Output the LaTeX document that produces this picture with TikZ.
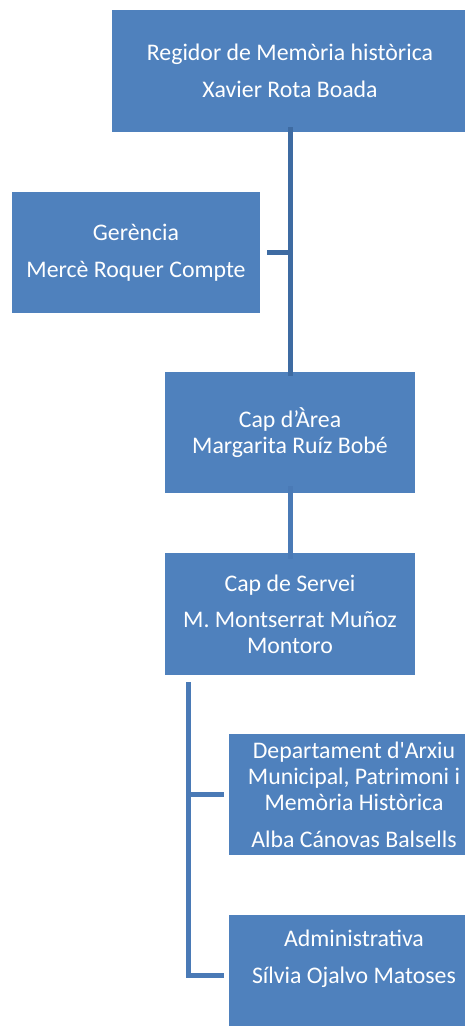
\documentclass[tikz,border=0pt]{standalone}
\usepackage{fontspec}
\setmainfont{Carlito}
\definecolor{boxblue}{HTML}{4F81BD}
\definecolor{linedark}{HTML}{3E6BA2}
\definecolor{linelight}{HTML}{4A7AB6}
\begin{document}
\begin{tikzpicture}[x=1pt,y=-1pt,
  orgbox/.style={fill=boxblue,draw=none,inner sep=0pt,text=white,align=center,
    font=\fontsize{23.8}{26}\selectfont},
  linktop/.style={draw=linedark,line width=5pt},
  linkbot/.style={draw=linelight,line width=5pt}]
\useasboundingbox (0,0) rectangle (465,1026);
\clip (0,0) rectangle (465,1026);
% boxes
\node[orgbox,minimum width=356pt,minimum height=122pt] (reg) at (290,71)
  {Regidor de Memòria històrica\\[11pt]Xavier Rota Boada};
\node[orgbox,minimum width=248pt,minimum height=121pt] (ger) at (136,252.5)
  {Gerència\\[11pt]Mercè Roquer Compte};
\node[orgbox,minimum width=250pt,minimum height=121pt] (area) at (290,432.5)
  {Cap d’Àrea\\Margarita Ruíz Bobé};
\node[orgbox,minimum width=250pt,minimum height=122pt] (serv) at (290,614)
  {Cap de Servei\\[10pt]M. Montserrat Muñoz\\Montoro};
\node[orgbox,minimum width=250pt,minimum height=121pt] (dept) at (354,794.5)
  {Departament d\textquotesingle Arxiu\\Municipal, Patrimoni i\\Memòria Històrica\\[11pt]Alba Cánovas Balsells};
\node[orgbox,minimum width=250pt,minimum height=122pt] (adm) at (354,976)
  {};
\node[text=white,align=center,font=\fontsize{23.8}{26}\selectfont,inner sep=0pt] (admtext) at (354,959)
  {Administrativa\\[11pt]Sílvia Ojalvo Matoses};
% connectors
\coordinate (t1) at ([yshift=5pt]reg.south);
\coordinate (t2) at ([yshift=-4pt]area.north);
\coordinate (gj) at (t1 |- ger.east);
\draw[linktop] (t1) -- (t2);
\draw[linktop] ([xshift=7pt]ger.east) -- (gj);
\draw[linkbot] ([yshift=7pt]area.south) -- ([yshift=-6pt]serv.north);
\coordinate (b1) at (188,682);
\coordinate (bd) at (b1 |- dept.west);
\coordinate (ba) at (188,975.5);
\draw[linkbot] (b1) -- (ba) -- ([xshift=-5pt]adm.west |- ba);
\draw[linkbot] (bd) -- ([xshift=-5pt]dept.west);
\end{tikzpicture}
\end{document}
